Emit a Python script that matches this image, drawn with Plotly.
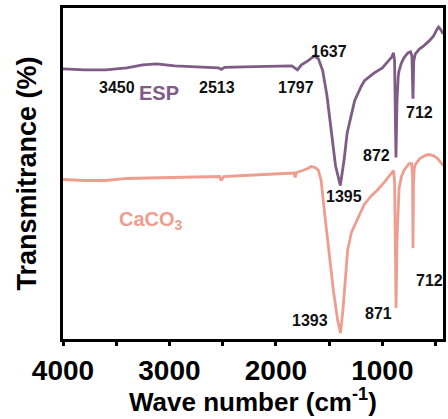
import plotly.graph_objects as go

# ---- data (transmittance in arbitrary units) ----
esp_wn = [4000, 3800, 3600, 3400, 3250, 3120, 2950, 2700, 2540, 2513, 2480, 2300, 2100,
          1950, 1850, 1797, 1760, 1700, 1637, 1600, 1560, 1520, 1480, 1440, 1395, 1360,
          1330, 1290, 1260, 1200, 1168, 1100, 1075, 1000, 955, 910, 895, 885, 872, 862,
          850, 843, 820, 797, 760, 735, 722, 712, 705, 690, 650, 611, 560, 518, 490, 472,
          455, 430]
esp_px = [68, 69, 69, 67, 64, 63, 65, 66, 67, 68.5, 66.5, 66, 65.5,
          65.5, 65, 69, 64, 60, 55, 58, 70, 95, 130, 165, 185, 160,
          132, 112, 100, 86, 80, 74, 72, 67, 62, 56, 52, 60, 157, 100,
          75, 70, 62, 57, 52, 51, 55, 98, 60, 53, 48, 45, 40, 35, 29, 26,
          28, 33]

caco3_wn = [4000, 3800, 3600, 3400, 3200, 3000, 2800, 2600, 2530, 2514, 2490, 2300, 2100,
            1900, 1830, 1818, 1805, 1750, 1700, 1670, 1630, 1600, 1575, 1540, 1500, 1460,
            1420, 1393, 1370, 1345, 1326, 1290, 1233, 1170, 1100, 1050, 982, 930, 895, 885,
            871, 862, 850, 843, 820, 797, 750, 725, 716, 712, 707, 700, 690, 648, 600, 565,
            520, 480, 450, 430]
caco3_px = [179, 180, 180, 178, 177.5, 177, 177, 176, 176, 180, 176, 175, 174,
            173, 172.5, 177, 172, 170, 168, 166, 167, 170, 180, 215, 255, 290,
            320, 333, 310, 270, 250, 232, 218, 204, 195, 190, 182, 175, 170, 180,
            308, 240, 200, 188, 176, 170, 163, 163, 175, 248, 185, 168, 164, 158, 155, 154,
            155, 158, 162, 165]

esp_T = [(339 - p) / 3.32 for p in esp_px]
caco3_T = [(339 - p) / 3.32 for p in caco3_px]

# peak labels: text, wavenumber position, transmittance position
esp_labels = ["3450", "2513", "1797", "1637", "1395", "872", "712"]
esp_label_x = [3497, 2556, 1810, 1503, 1363, 1056, 655]
esp_label_y = [75.9, 75.9, 75.9, 87.0, 43.1, 55.4, 68.4]
ca_labels = ["1393", "871", "712"]
ca_label_x = [1680, 1037, 553]
ca_label_y = [5.7, 7.8, 17.8]

x_ticks = [4000, 3000, 2000, 1000]
x_tick_text = ["4000", "3000", "2000", "1000"]

PURPLE = "#7f5c86"
SALMON = "#ee9e8f"
FONT = "Arial, Liberation Sans, sans-serif"

fig = go.Figure()
fig.add_trace(go.Scatter(x=esp_wn, y=esp_T, mode="lines",
                         line=dict(color=PURPLE, width=2.8), showlegend=False))
fig.add_trace(go.Scatter(x=caco3_wn, y=caco3_T, mode="lines",
                         line=dict(color=SALMON, width=2.8), showlegend=False))

ann = []
for t, x, y in zip(esp_labels + ca_labels, esp_label_x + ca_label_x, esp_label_y + ca_label_y):
    ann.append(dict(x=x, y=y, text="<b>%s</b>" % t, showarrow=False,
                    font=dict(family=FONT, size=16, color="#111111"),
                    xanchor="center", yanchor="middle"))
ann.append(dict(x=3096, y=74.4, text="<b>ESP</b>", showarrow=False,
                font=dict(family=FONT, size=20, color=PURPLE), xanchor="center", yanchor="middle"))
ann.append(dict(x=3171, y=35.8, text="<b>CaCO<sub>3</sub></b>", showarrow=False,
                font=dict(family=FONT, size=20, color=SALMON), xanchor="center", yanchor="middle"))
# x-axis title placed as a paper annotation for precise position
ann.append(dict(x=0.50, y=-0.187, xref="paper", yref="paper",
                text="<b>Wave number (cm<sup>-1</sup>)</b>", showarrow=False,
                font=dict(family=FONT, size=26, color="black"),
                xanchor="center", yanchor="middle"))

fig.update_layout(
    width=448, height=419,
    margin=dict(l=63, r=2, t=8, b=80),
    paper_bgcolor="white", plot_bgcolor="white",
    annotations=ann,
    xaxis=dict(range=[4000, 430], tickvals=x_ticks, ticktext=x_tick_text,
               ticks="outside", ticklen=4, tickwidth=3, tickcolor="black",
               minor=dict(tickvals=[3500, 2500, 1500, 500], ticks="outside", ticklen=4,
                          tickwidth=3, tickcolor="black"),
               showline=True, linewidth=3, linecolor="black", mirror=True,
               showgrid=False, zeroline=False,
               tickfont=dict(family=FONT, size=28, color="black", weight="bold")),
    yaxis=dict(range=[0, 100], showticklabels=False, ticks="",
               showline=True, linewidth=3, linecolor="black", mirror=True,
               showgrid=False, zeroline=False,
               title=dict(text="<b>Transmitrance (%)</b>", standoff=16,
                          font=dict(family=FONT, size=27, color="black"))),
)

fig.write_html("out.html")
